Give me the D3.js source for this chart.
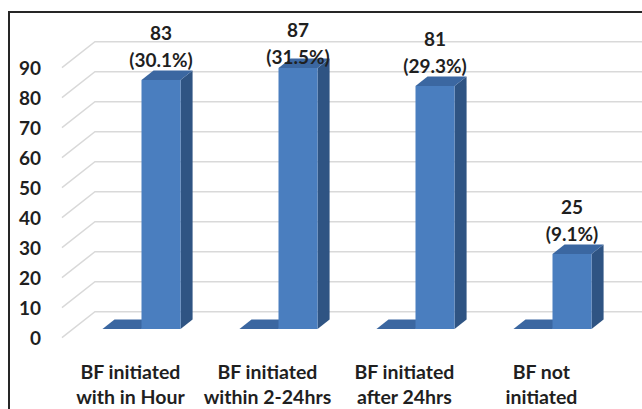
<!DOCTYPE html>
<html>
<head>
<meta charset="utf-8">
<script src="https://cdn.jsdelivr.net/npm/d3@7"></script>
<style>
  body { margin: 0; background: #fff; }
  svg { display: block; }
</style>
</head>
<body>
<script>
// chart data
const categories = [
  ["BF initiated", "with in Hour"],
  ["BF initiated", "within 2-24hrs"],
  ["BF initiated", "after 24hrs"],
  ["BF not", "initiated"]
];
const counts = [83, 87, 81, 25];
const percents = [30.1, 31.5, 29.3, 9.1];
const emptySeries = [0, 0, 0, 0]; // first series is empty, drawn as a flat slab
const yTicks = [0, 10, 20, 30, 40, 50, 60, 70, 80, 90];

const width = 642, height = 409;
const font = "Lato, 'Open Sans', sans-serif";

// depth of the 3d floor (front edge -> back wall) and where the bars sit in it
const depthX = 33, depthY = 26;
const zFront = 0.335, zBack = 0.70;

const x = d3.scaleBand()
  .domain(d3.range(categories.length))
  .range([73, 621])
  .paddingInner(0.43)
  .paddingOuter(0.215);

const xs = d3.scaleBand()
  .domain([0, 1])
  .range([0, x.bandwidth()]);

const y = d3.scaleLinear()
  .domain([0, 90])
  .range([329, 59]);

// project a point (x on the bar front plane, value, depth z) to screen
function proj(px, v, z) {
  return [px + depthX * (z - zFront), y(v) - depthY * (z - zFront)];
}
const poly = pts => "M" + pts.map(p => p.join(",")).join("L") + "Z";

const svg = d3.select("body").append("svg")
  .attr("width", width)
  .attr("height", height)
  .attr("font-family", font);

svg.append("rect")
  .attr("width", width)
  .attr("height", height)
  .attr("fill", "#fff");

// gridlines: front diagonal + back wall
svg.append("g")
  .selectAll("path")
  .data(yTicks)
  .join("path")
  .attr("fill", "none")
  .attr("stroke", "#d9d9d9")
  .attr("stroke-width", 1.5)
  .attr("d", v => {
    const a = proj(x.range()[0], v, 0);
    const b = proj(x.range()[0], v, 1);
    const c = proj(width + 20, v, 1);
    return `M${a}L${b}L${c}`;
  });

// y axis labels along the front edge
const yFront = y.copy().range(y.range().map(r => r + depthY * zFront));
const yAxis = svg.append("g")
  .attr("transform", "translate(41,0)")
  .call(d3.axisLeft(yFront).tickValues(yTicks).tickSize(0).tickPadding(0));
yAxis.select(".domain").remove();
yAxis.selectAll("text")
  .attr("font-family", font)
  .attr("font-size", 19)
  .attr("font-weight", "bold")
  .attr("fill", "#1f1f1f")
  .attr("dy", "0.36em");

const colFront = "#4a7ebf", colTop = "#3b67a1", colSide = "#2f5483";

const bars = svg.append("g");

categories.forEach((c, i) => {
  // empty series: only a flat top face on the floor
  const f0 = x(i) + xs(0), f1 = f0 + xs.bandwidth();
  const e = emptySeries[i];
  bars.append("path")
    .attr("fill", colTop)
    .attr("d", poly([proj(f0, e, zFront), proj(f1, e, zFront), proj(f1, e, zBack), proj(f0, e, zBack)]));

  // value bar
  const b0 = x(i) + xs(1), b1 = b0 + xs.bandwidth();
  const v = counts[i];
  bars.append("path")
    .attr("fill", colSide)
    .attr("d", poly([proj(b1, 0, zFront), proj(b1, v, zFront), proj(b1, v, zBack), proj(b1, 0, zBack)]));
  bars.append("path")
    .attr("fill", colTop)
    .attr("d", poly([proj(b0, v, zFront), proj(b1, v, zFront), proj(b1, v, zBack), proj(b0, v, zBack)]));
  bars.append("rect")
    .attr("x", b0)
    .attr("y", y(v))
    .attr("width", b1 - b0)
    .attr("height", y(0) - y(v))
    .attr("fill", colFront);
});

// value labels
const labels = svg.append("g")
  .attr("font-size", 19)
  .attr("font-weight", "bold")
  .attr("fill", "#1f1f1f")
  .attr("text-anchor", "middle");

counts.forEach((v, i) => {
  const cx = x(i) + xs(1) + xs.bandwidth() / 2;
  const yp = Math.max(57, y(v) - 20);
  labels.append("text")
    .attr("x", cx).attr("y", yp - 27).attr("dy", "0.36em")
    .text(v);
  labels.append("text")
    .attr("x", cx).attr("y", yp).attr("dy", "0.36em")
    .text(`(${percents[i]}%)`);
});

// category labels under the front edge
const catG = svg.append("g")
  .attr("font-size", 19.5)
  .attr("font-weight", "bold")
  .attr("fill", "#1f1f1f")
  .attr("text-anchor", "middle");

categories.forEach((lines, i) => {
  const cx = x(i) + x.bandwidth() / 2 - depthX * zFront;
  lines.forEach((t, k) => {
    catG.append("text")
      .attr("x", cx)
      .attr("y", 372 + k * 25)
      .attr("dy", "0.36em")
      .text(t);
  });
});

// chart frame (left and top edges, the rest is cropped)
svg.append("path")
  .attr("fill", "none")
  .attr("stroke", "#262626")
  .attr("stroke-width", 2)
  .attr("d", `M9,${height}V12H${width}`);
</script>
</body>
</html>
